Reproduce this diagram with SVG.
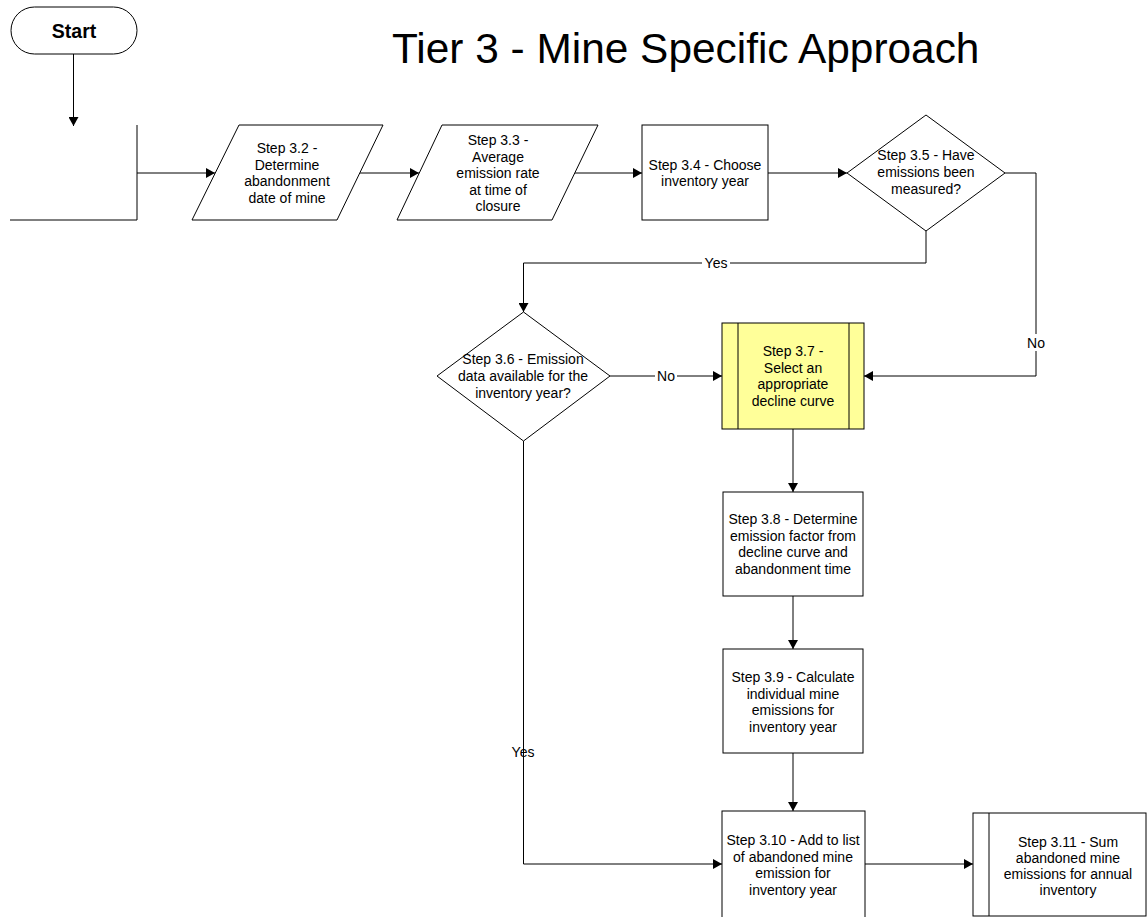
<svg xmlns="http://www.w3.org/2000/svg" width="1147" height="917" viewBox="0 0 1147 917">
<style>
.s{fill:#fff;stroke:#000;stroke-width:1}
.y{fill:#FFFF99;stroke:#000;stroke-width:1}
.t{font-family:"Liberation Sans",Arial,sans-serif;font-size:14px;fill:#000;text-anchor:middle}
.c{fill:none;stroke:#000;stroke-width:1}
.lb{fill:#fff;stroke:none}
</style>
<defs>
<marker id="a" markerUnits="userSpaceOnUse" markerWidth="10" markerHeight="10" refX="9" refY="5" orient="auto">
<path d="M0,0 L9,5 L0,10 Z" fill="#000"/>
</marker>
</defs>
<rect width="1147" height="917" fill="#fff"/>
<text x="392" y="63" font-family="Liberation Sans,Arial,sans-serif" font-size="42.4" fill="#000">Tier 3 - Mine Specific Approach</text>

<g id="connectors">
<path class="c" d="M73.5,54 V126" marker-end="url(#a)"/>
<path class="c" d="M137,173 H215" marker-end="url(#a)"/>
<path class="c" d="M360,173 H419" marker-end="url(#a)"/>
<path class="c" d="M575,173 H642" marker-end="url(#a)"/>
<path class="c" d="M768,173 H847" marker-end="url(#a)"/>
<path class="c" d="M1005,173 H1036 V376 H864" marker-end="url(#a)"/>
<rect class="lb" x="1026" y="334" width="20" height="17"/>
<text class="t" x="1036" y="348">No</text>
<path class="c" d="M926,231 V263 H523.5 V312" marker-end="url(#a)"/>
<rect class="lb" x="702" y="255" width="28" height="17"/>
<text class="t" x="716" y="268">Yes</text>
<path class="c" d="M610,376 H722" marker-end="url(#a)"/>
<rect class="lb" x="655" y="368" width="22" height="17"/>
<text class="t" x="666" y="381">No</text>
<path class="c" d="M793,429 V492" marker-end="url(#a)"/>
<path class="c" d="M793,596 V649" marker-end="url(#a)"/>
<path class="c" d="M793,753 V811" marker-end="url(#a)"/>
<path class="c" d="M523.5,441 V864 H722" marker-end="url(#a)"/>
<text class="t" x="523" y="757">Yes</text>
<path class="c" d="M865,864 H973" marker-end="url(#a)"/>
</g>

<g id="start">
<rect class="s" x="11" y="7" width="126" height="47" rx="23.5"/>
<text x="74" y="38" font-family="Liberation Sans,Arial,sans-serif" font-size="19.5" font-weight="bold" text-anchor="middle">Start</text>
</g>

<g id="step31">
<path class="c" d="M10,220 H137 V125"/>
</g>

<g id="step32">
<polygon class="s" points="239,125 383,125 337,220 192,220"/>
<text class="t"><tspan x="287" y="153">Step 3.2 -</tspan><tspan x="287" y="169.5">Determine</tspan><tspan x="287" y="186">abandonment</tspan><tspan x="287" y="202.5">date of mine</tspan></text>
</g>

<g id="step33">
<polygon class="s" points="442,125 598,125 552,220 397,220"/>
<text class="t"><tspan x="498" y="145">Step 3.3 -</tspan><tspan x="498" y="161.5">Average</tspan><tspan x="498" y="178">emission rate</tspan><tspan x="498" y="194.5">at time of</tspan><tspan x="498" y="211">closure</tspan></text>
</g>

<g id="step34">
<rect class="s" x="642" y="125" width="126" height="95"/>
<text class="t"><tspan x="705" y="169.5">Step 3.4 - Choose</tspan><tspan x="705" y="186">inventory year</tspan></text>
</g>

<g id="step35">
<polygon class="s" points="926,115 1005,173 926,231 847,173"/>
<text class="t"><tspan x="926" y="160">Step 3.5 - Have</tspan><tspan x="926" y="177">emissions been</tspan><tspan x="926" y="194">measured?</tspan></text>
</g>

<g id="step36">
<polygon class="s" points="523.5,312 610,376 523.5,441 437,376"/>
<text class="t"><tspan x="523" y="364">Step 3.6 - Emission</tspan><tspan x="523" y="381">data available for the</tspan><tspan x="523" y="398">inventory year?</tspan></text>
</g>

<g id="step37">
<rect class="y" x="722" y="323" width="142" height="106"/>
<line class="c" x1="738" y1="323" x2="738" y2="429"/>
<line class="c" x1="849" y1="323" x2="849" y2="429"/>
<text class="t"><tspan x="793" y="356">Step 3.7 -</tspan><tspan x="793" y="372.5">Select an</tspan><tspan x="793" y="389">appropriate</tspan><tspan x="793" y="405.5">decline curve</tspan></text>
</g>

<g id="step38">
<rect class="s" x="723" y="492" width="140" height="104"/>
<text class="t"><tspan x="793" y="524">Step 3.8 - Determine</tspan><tspan x="793" y="540.5">emission factor from</tspan><tspan x="793" y="557">decline curve and</tspan><tspan x="793" y="573.5">abandonment time</tspan></text>
</g>

<g id="step39">
<rect class="s" x="723" y="649" width="140" height="104"/>
<text class="t"><tspan x="793" y="682">Step 3.9 - Calculate</tspan><tspan x="793" y="698.5">individual mine</tspan><tspan x="793" y="715">emissions for</tspan><tspan x="793" y="731.5">inventory year</tspan></text>
</g>

<g id="step310">
<rect class="s" x="722" y="811" width="143" height="108"/>
<text class="t"><tspan x="793" y="845">Step 3.10 - Add to list</tspan><tspan x="793" y="861.5">of abandoned mine</tspan><tspan x="793" y="878">emission for</tspan><tspan x="793" y="894.5">inventory year</tspan></text>
</g>

<g id="step311">
<rect class="s" x="973" y="813" width="173" height="103"/>
<line class="c" x1="989" y1="813" x2="989" y2="916"/>
<text class="t"><tspan x="1068" y="847">Step 3.11 - Sum</tspan><tspan x="1068" y="863">abandoned mine</tspan><tspan x="1068" y="879">emissions for annual</tspan><tspan x="1068" y="895">inventory</tspan></text>
</g>
</svg>
